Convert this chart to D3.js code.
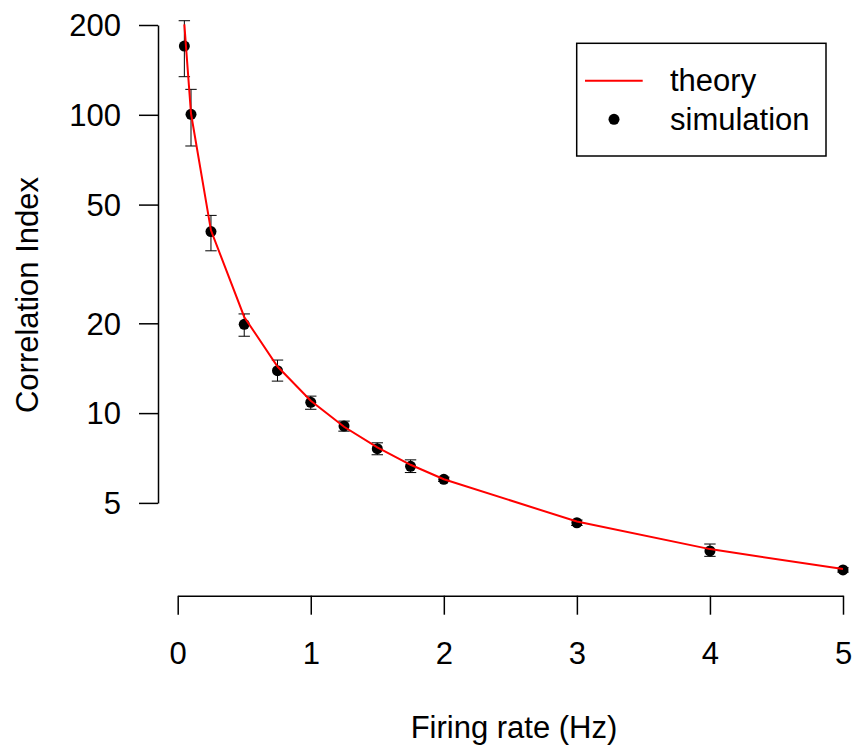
<!DOCTYPE html>
<html>
<head>
<meta charset="utf-8">
<script src="https://cdn.jsdelivr.net/npm/d3@7"></script>
<style>
  body { margin: 0; background: #fff; }
  svg text { font-family: "Liberation Sans", Arial, Helvetica, sans-serif; fill: #000; }
</style>
</head>
<body>
<svg id="viz" width="853" height="749"></svg>
<script>
// Données
const rates = [0.05, 0.1, 0.25, 0.5, 0.75, 1, 1.25, 1.5, 1.75, 2, 3, 4, 5];
const theory = [201, 101, 41, 21, 14.33, 11, 9, 7.67, 6.71, 6, 4.33, 3.5, 3];
const simMean = [170, 100.4, 40.6, 19.85, 13.87, 10.87, 9.05, 7.6, 6.63, 6.0, 4.29, 3.45, 2.98];
const simLow = [134.2, 78.6, 35.0, 18.1, 12.8, 10.3, 8.7, 7.25, 6.32, 5.9, 4.2, 3.31, 2.93];
const simHigh = [206.7, 121.7, 46.0, 21.5, 15.06, 11.4, 9.4, 7.95, 6.97, 6.1, 4.38, 3.64, 3.03];
const xTicks = [0, 1, 2, 3, 4, 5];
const yTicks = [5, 10, 20, 50, 100, 200];
const legendItems = ['theory', 'simulation'];

const svg = d3.select('#viz');
const fontSize = 31;

// Échelles
const x = d3.scaleLinear().domain([0, 5]).range([177.7, 843]);
const y = d3.scaleLog().domain([5, 200]).range([502.9, 25]);

const axisX = 595.7; // position verticale de l'axe des x
const axisY = 158;   // position horizontale de l'axe des y

// Axes
const gx = svg.append('g')
    .attr('transform', `translate(0,${axisX})`)
    .call(d3.axisBottom(x).tickValues(xTicks).tickFormat(d3.format('d'))
        .tickSize(19).tickSizeOuter(0));

gx.selectAll('text')
    .attr('y', 68).attr('dy', 0)
    .style('font-size', fontSize + 'px');

const gy = svg.append('g')
    .attr('transform', `translate(${axisY},0)`)
    .call(d3.axisLeft(y).tickValues(yTicks).tickFormat(d3.format('d'))
        .tickSize(19).tickPadding(18).tickSizeOuter(0));

gy.selectAll('text')
    .attr('dy', '0.35em')
    .style('font-size', fontSize + 'px');

[gx, gy].forEach((g) => {
    g.attr('font-family', null).attr('font-size', null);
    g.select('.domain').attr('stroke', '#000').attr('stroke-width', 1.5);
    g.selectAll('.tick line').attr('stroke', '#000').attr('stroke-width', 1.5);
});

// Titres des axes
svg.append('text')
    .attr('x', 514).attr('y', 738)
    .attr('text-anchor', 'middle')
    .style('font-size', fontSize + 'px')
    .text('Firing rate (Hz)');

svg.append('text')
    .attr('transform', 'translate(38,295) rotate(-90)')
    .attr('text-anchor', 'middle')
    .style('font-size', fontSize + 'px')
    .text('Correlation Index');

// Barres d'erreur
const sim = rates.map((r, i) => ({ r, m: simMean[i], lo: simLow[i], hi: simHigh[i] }));
const capW = 5.7;

const err = svg.append('g').attr('class', 'errorbars')
    .attr('stroke', '#000').attr('stroke-width', 1);

err.selectAll('line.v').data(sim).enter().append('line')
    .attr('class', 'v')
    .attr('x1', (d) => x(d.r)).attr('x2', (d) => x(d.r))
    .attr('y1', (d) => y(d.lo)).attr('y2', (d) => y(d.hi));

err.selectAll('line.top').data(sim).enter().append('line')
    .attr('class', 'top')
    .attr('x1', (d) => x(d.r) - capW).attr('x2', (d) => x(d.r) + capW)
    .attr('y1', (d) => y(d.hi)).attr('y2', (d) => y(d.hi));

err.selectAll('line.bot').data(sim).enter().append('line')
    .attr('class', 'bot')
    .attr('x1', (d) => x(d.r) - capW).attr('x2', (d) => x(d.r) + capW)
    .attr('y1', (d) => y(d.lo)).attr('y2', (d) => y(d.lo));

// Points de simulation
svg.append('g').attr('class', 'points')
    .selectAll('circle')
    .data(sim)
    .enter()
    .append('circle')
    .attr('cx', (d) => x(d.r))
    .attr('cy', (d) => y(d.m))
    .attr('r', 5.5)
    .attr('fill', '#000');

// Courbe théorique
const line = d3.line()
    .x((d, i) => x(rates[i]))
    .y((d) => y(d));

svg.append('path')
    .datum(theory)
    .attr('d', line)
    .attr('fill', 'none')
    .attr('stroke', '#ff0000')
    .attr('stroke-width', 2);

// Légende
const legend = svg.append('g').attr('class', 'legend');

legend.append('rect')
    .attr('x', 576.7).attr('y', 43.3)
    .attr('width', 249.3).attr('height', 112.7)
    .attr('fill', '#fff')
    .attr('stroke', '#000')
    .attr('stroke-width', 1.5);

legend.append('line')
    .attr('x1', 585).attr('x2', 642.7)
    .attr('y1', 80.7).attr('y2', 80.7)
    .attr('stroke', '#ff0000').attr('stroke-width', 2);

legend.append('circle')
    .attr('cx', 614).attr('cy', 119.3).attr('r', 5.5)
    .attr('fill', '#000');

legend.selectAll('text.item')
    .data(legendItems)
    .enter()
    .append('text')
    .attr('class', 'item')
    .attr('x', 670)
    .attr('y', (d, i) => 91 + i * 39)
    .style('font-size', fontSize + 'px')
    .text((d) => d);
</script>
</body>
</html>
